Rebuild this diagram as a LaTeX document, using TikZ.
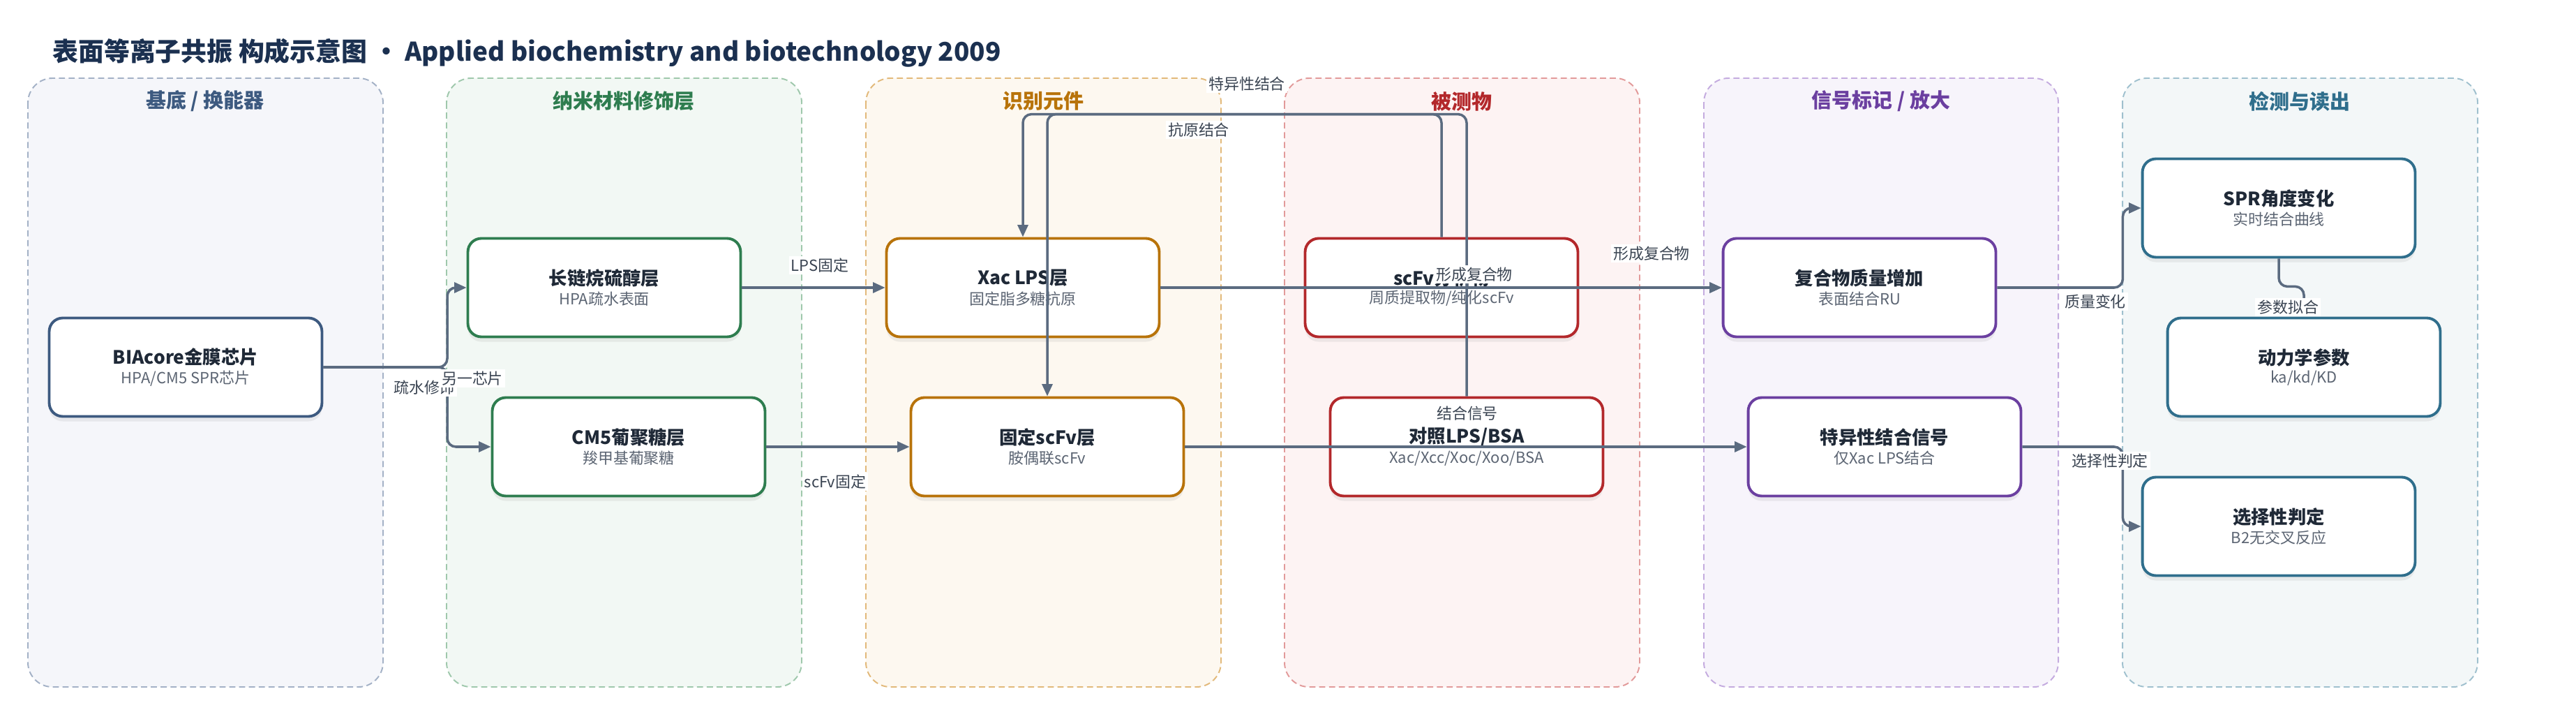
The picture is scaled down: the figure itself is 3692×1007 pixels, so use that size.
\documentclass[tikz,border=0pt]{standalone}
\usepackage{fontspec}
\setmainfont{Noto Sans CJK SC}
\usetikzlibrary{arrows.meta,shadows}

\definecolor{titleblue}{HTML}{1B3050}
\definecolor{edgegray}{HTML}{5B6B80}
\definecolor{labelgray}{HTML}{3A4452}
\definecolor{subgray}{HTML}{5C6573}
\definecolor{nodeink}{HTML}{1F2937}
\definecolor{laneA}{HTML}{3D5A80}
\definecolor{laneB}{HTML}{2E7D4F}
\definecolor{laneC}{HTML}{B8730A}
\definecolor{laneD}{HTML}{B3282B}
\definecolor{laneE}{HTML}{6B3FA0}
\definecolor{laneF}{HTML}{2F6E8C}
\definecolor{fillA}{HTML}{F5F6FA}
\definecolor{fillB}{HTML}{F2F8F4}
\definecolor{fillC}{HTML}{FDF8F0}
\definecolor{fillD}{HTML}{FDF3F3}
\definecolor{fillE}{HTML}{F7F4FB}
\definecolor{fillF}{HTML}{F3F7F8}
\definecolor{dashA}{HTML}{A3B1C6}
\definecolor{dashB}{HTML}{9FC8AC}
\definecolor{dashC}{HTML}{E2B97A}
\definecolor{dashD}{HTML}{E29A9A}
\definecolor{dashE}{HTML}{C4ABDF}
\definecolor{dashF}{HTML}{9FC0CE}

\newcommand{\boxtext}[2]{{\bfseries\fontsize{15}{18}\selectfont\color{nodeink}#1}\\[3pt]{\fontsize{12.5}{15}\selectfont\color{subgray}#2}}

\begin{document}
\begin{tikzpicture}[x=0.02cm, y=-0.02cm,
    arrowstyle/.style={draw=edgegray, line width=2pt, rounded corners=7pt,
        -{Triangle[length=10pt,width=8.5pt]}},
    lane/.style 2 args={draw=#1, fill=#2, dashed, dash pattern=on 5pt off 3pt,
        line width=1.1pt, rounded corners=20pt},
    lanetitle/.style={font=\bfseries\fontsize{16.5}{20}\selectfont, text=#1},
    layer/.style={rectangle, draw=#1, line width=2.2pt, fill=white, rounded corners=11pt,
        minimum width=7.82cm, minimum height=2.82cm, align=center,
        drop shadow={shadow xshift=0pt, shadow yshift=-4pt, opacity=0.12}},
    edgelabel/.style={fill=white, inner sep=1.5pt, text=labelgray,
        font=\fontsize{12.5}{15}\selectfont}
]
\useasboundingbox (0,0) rectangle (3692,1007);

\node[anchor=base west, inner sep=0pt, text=titleblue, font=\bfseries\fontsize{21}{25}\selectfont]
  (title) at (75,88) {表面等离子共振 构成示意图 • Applied biochemistry and biotechnology 2009};

\path[lane={dashA}{fillA}] (40,112) rectangle (549,984);
\path[lane={dashB}{fillB}] (640,112) rectangle (1149,984);
\path[lane={dashC}{fillC}] (1241,112) rectangle (1750,984);
\path[lane={dashD}{fillD}] (1841,112) rectangle (2350,984);
\path[lane={dashE}{fillE}] (2442,112) rectangle (2950,984);
\path[lane={dashF}{fillF}] (3042,112) rectangle (3551,984);

\node[lanetitle=laneA] (substrate) at (294,145) {基底 / 换能器};
\node[lanetitle=laneB] (nano) at (894,145) {纳米材料修饰层};
\node[lanetitle=laneC] (recog) at (1495,145) {识别元件};
\node[lanetitle=laneD] (analyte) at (2095,145) {被测物};
\node[lanetitle=laneE] (signal) at (2696,145) {信号标记 / 放大};
\node[lanetitle=laneF] (readout) at (3296,145) {检测与读出};

\node[layer=laneA] (chip) at (266,526) {\boxtext{BIAcore金膜芯片}{HPA/CM5 SPR芯片}};
\node[layer=laneB] (thiol) at (866,412) {\boxtext{长链烷硫醇层}{HPA疏水表面}};
\node[layer=laneB] (dextran) at (901,640) {\boxtext{CM5葡聚糖层}{羧甲基葡聚糖}};
\node[layer=laneC] (lps) at (1466,412) {\boxtext{Xac LPS层}{固定脂多糖抗原}};
\node[layer=laneC] (fixscfv) at (1501,640) {\boxtext{固定scFv层}{胺偶联scFv}};
\node[layer=laneD] (scfv) at (2066,412) {\boxtext{scFv分析物}{周质提取物/纯化scFv}};
\node[layer=laneD] (control) at (2102,640) {\boxtext{对照LPS/BSA}{Xac/Xcc/Xoc/Xoo/BSA}};
\node[layer=laneE] (complex) at (2665,412) {\boxtext{复合物质量增加}{表面结合RU}};
\node[layer=laneE] (specific) at (2701,640) {\boxtext{特异性结合信号}{仅Xac LPS结合}};
\node[layer=laneF] (spr) at (3266,298) {\boxtext{SPR角度变化}{实时结合曲线}};
\node[layer=laneF] (kinetic) at (3302,526) {\boxtext{动力学参数}{ka/kd/KD}};
\node[layer=laneF] (select) at (3266,754) {\boxtext{选择性判定}{B2无交叉反应}};

\coordinate (split) at (641,526);
\draw[arrowstyle] (chip.east) -- (split) |- (thiol.west);
\draw[arrowstyle] (chip.east) -- (split) |- (dextran.west);
\draw[arrowstyle] (thiol.east) -- (lps.west);
\draw[arrowstyle] (dextran.east) -- (fixscfv.west);
\draw[arrowstyle] (lps.east) -- (complex.west);
\draw[arrowstyle] (scfv.east) -- (complex.west);
\draw[arrowstyle] (fixscfv.east) -- (specific.west);
\draw[arrowstyle] (scfv.north) -- ++(0,-176) -| (lps.north);
\draw[arrowstyle] (control.north) -- ++(0,-404) -| (fixscfv.north);
\draw[arrowstyle] (complex.east) -- ++(180,0) |- (spr.west);
\draw[arrowstyle] (specific.east) -- ++(144,0) |- (select.west);
\draw[arrowstyle] (spr.south) -- ++(0,40) -| (kinetic.north);

\node[edgelabel] (lbhydro) at (608,555) {疏水修饰};
\node[edgelabel] (lbother) at (677,542) {另一芯片};
\node[edgelabel] (lblps) at (1175,380) {LPS固定};
\node[edgelabel] (lbfix) at (1197,690) {scFv固定};
\node[edgelabel] (lbspec) at (1787,120) {特异性结合};
\node[edgelabel] (lbanti) at (1718,186) {抗原结合};
\node[edgelabel] (lbcomA) at (2113,393) {形成复合物};
\node[edgelabel] (lbcomB) at (2367,363) {形成复合物};
\node[edgelabel] (lbbind) at (2103,592) {结合信号};
\node[edgelabel] (lbmass) at (3003,432) {质量变化};
\node[edgelabel] (lbsel) at (3024,660) {选择性判定};
\node[edgelabel] (lbfit) at (3279,440) {参数拟合};
\end{tikzpicture}
\end{document}
